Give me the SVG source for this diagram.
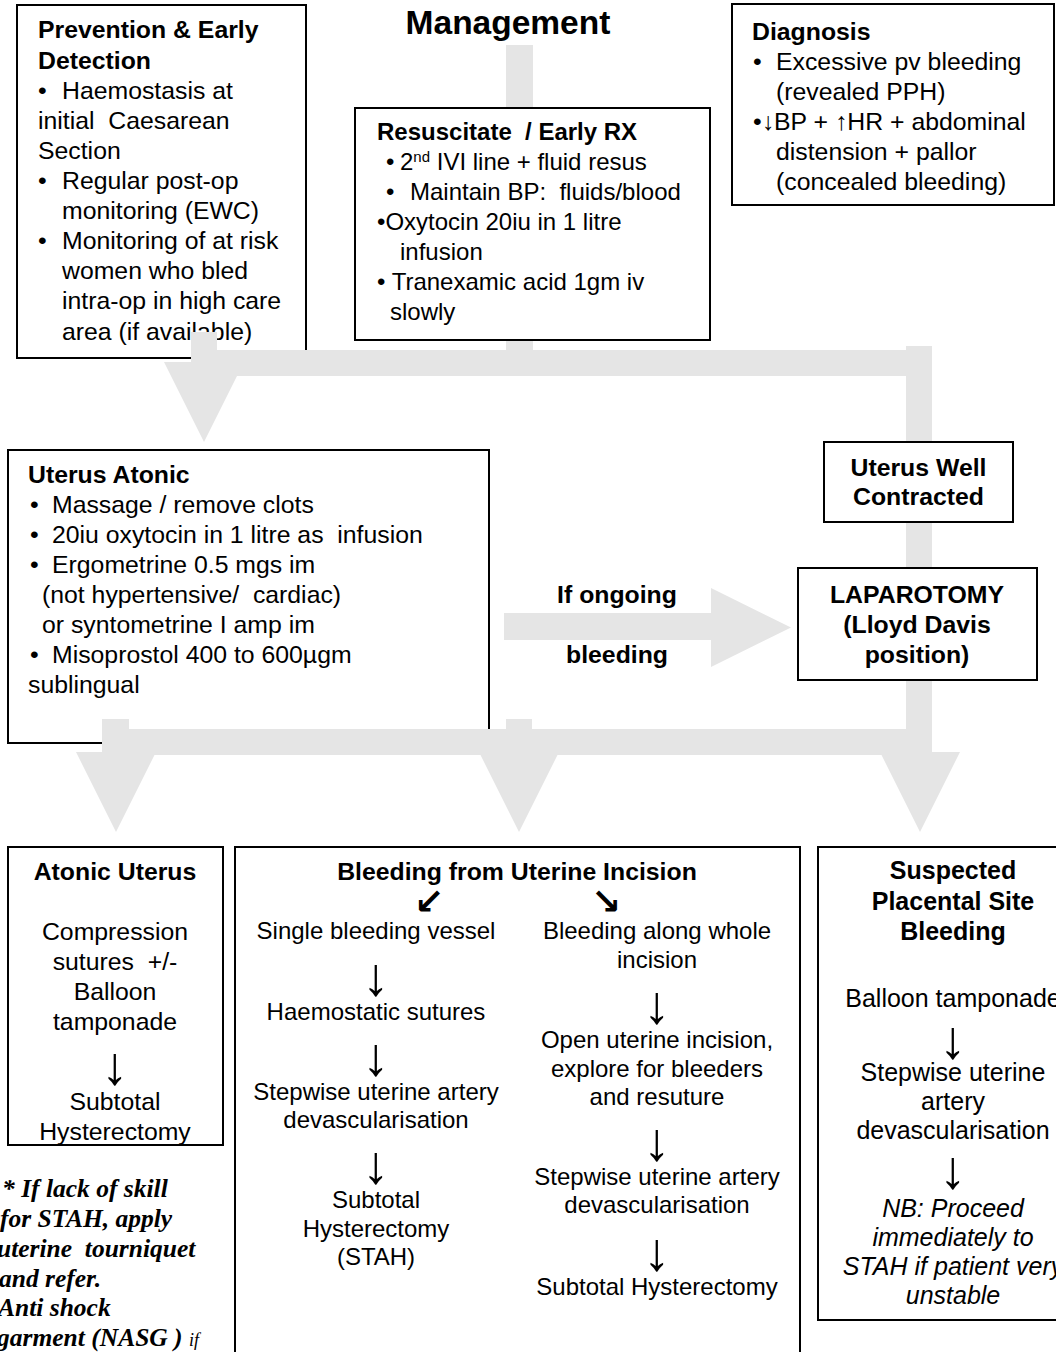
<svg xmlns="http://www.w3.org/2000/svg" width="1056" height="1352" viewBox="0 0 1056 1352">
<style>
.t{font-family:"Liberation Sans",Arial,sans-serif;font-size:24.8px;fill:#000}
.s24{font-size:24px}
.b{font-weight:bold}
.m{text-anchor:middle}
.i{font-style:italic}
.r25{font-size:25px}
.ar{font-family:"Liberation Sans","DejaVu Sans",sans-serif;font-size:54px;text-anchor:middle}
.dg{font-family:"DejaVu Sans",sans-serif;font-weight:bold;font-size:36px;text-anchor:middle}
.box{fill:#fff;stroke:#000;stroke-width:2}
.conn{fill:#e5e5e5}
.note{font-family:"Liberation Serif","Times New Roman",serif;font-weight:bold;font-style:italic;font-size:25.5px}
</style>
<rect width="1056" height="1352" fill="#fff"/>

<g id="prevention">
<rect class="box" x="17" y="5" width="289" height="353"/>
<text class="t b" x="38" y="38">Prevention &amp; Early</text>
<text class="t b" x="38" y="69">Detection</text>
<text class="t" x="38" y="99">•</text><text class="t" x="62" y="99">Haemostasis at</text>
<text class="t" x="38" y="129" xml:space="preserve">initial  Caesarean</text>
<text class="t" x="38" y="159">Section</text>
<text class="t" x="38" y="189">•</text><text class="t" x="62" y="189">Regular post-op</text>
<text class="t" x="62" y="219">monitoring (EWC)</text>
<text class="t" x="38" y="249">•</text><text class="t" x="62" y="249">Monitoring of at risk</text>
<text class="t" x="62" y="279">women who bled</text>
<text class="t" x="62" y="309">intra-op in high care</text>
<text class="t" x="62" y="340">area (if available)</text>
</g>

<g id="uterus-atonic">
<rect class="box" x="8" y="450" width="481" height="293"/>
<text class="t b" x="28" y="483">Uterus Atonic</text>
<text class="t" x="30" y="513">•</text><text class="t" x="52" y="513">Massage / remove clots</text>
<text class="t" x="30" y="543">•</text><text class="t" x="52" y="543" xml:space="preserve">20iu oxytocin in 1 litre as  infusion</text>
<text class="t" x="30" y="573">•</text><text class="t" x="52" y="573">Ergometrine 0.5 mgs im</text>
<text class="t" x="42" y="603" xml:space="preserve">(not hypertensive/  cardiac)</text>
<text class="t" x="42" y="633">or syntometrine I amp im</text>
<text class="t" x="30" y="663">•</text><text class="t" x="52" y="663">Misoprostol 400 to 600µgm</text>
<text class="t" x="28" y="693">sublingual</text>
</g>

<g id="connectors">
<rect class="conn" x="506" y="45" width="27" height="310"/>
<rect class="conn" x="191" y="350" width="741" height="26"/>
<rect class="conn" x="191" y="332" width="26" height="30"/>
<polygon class="conn" points="164,362 244,362 204,442"/>
<rect class="conn" x="906" y="346" width="26" height="409"/>
<rect class="conn" x="102" y="729" width="830" height="26"/>
<rect class="conn" x="102" y="719" width="27" height="12"/>
<rect class="conn" x="506" y="719" width="26" height="12"/>
<polygon class="conn" points="76,752 156,752 116,832"/>
<polygon class="conn" points="479,752 559,752 519,832"/>
<polygon class="conn" points="880,752 960,752 920,832"/>
<polygon class="conn" points="504,613 711,613 711,588 791,627.5 711,667 711,640 504,640"/>
</g>

<g id="management">
<text class="t b m" x="508" y="34" style="font-size:33.5px">Management</text>
</g>

<g id="resuscitate">
<rect class="box" x="355" y="108" width="355" height="232"/>
<text class="t b s24" x="377" y="140" xml:space="preserve">Resuscitate  / Early RX</text>
<text class="t s24" x="386" y="170">•</text><text class="t s24" x="400" y="170">2<tspan dy="-8" font-size="15">nd</tspan><tspan dy="8"> IVI line + fluid resus</tspan></text>
<text class="t s24" x="386" y="200">•</text><text class="t s24" x="410" y="200" xml:space="preserve">Maintain BP:  fluids/blood</text>
<text class="t s24" x="377" y="230">•Oxytocin 20iu in 1 litre</text>
<text class="t s24" x="400" y="260">infusion</text>
<text class="t s24" x="377" y="290">• Tranexamic acid 1gm iv</text>
<text class="t s24" x="390" y="320">slowly</text>
</g>

<g id="diagnosis">
<rect class="box" x="732" y="4" width="322" height="201"/>
<text class="t b" x="752" y="40">Diagnosis</text>
<text class="t" x="753" y="70">•</text><text class="t" x="776" y="70">Excessive pv bleeding</text>
<text class="t" x="776" y="100">(revealed PPH)</text>
<text class="t" x="753" y="130">•↓BP + ↑HR + abdominal</text>
<text class="t" x="776" y="160">distension + pallor</text>
<text class="t" x="776" y="190">(concealed bleeding)</text>
</g>

<g id="uterus-well">
<rect class="box" x="824" y="442" width="189" height="80"/>
<text class="t b m" x="918.5" y="476">Uterus Well</text>
<text class="t b m" x="918.5" y="505">Contracted</text>
</g>

<g id="if-ongoing">
<text class="t b m" x="617" y="603">If ongoing</text>
<text class="t b m" x="617" y="663">bleeding</text>
</g>

<g id="laparotomy">
<rect class="box" x="798" y="568" width="239" height="112"/>
<text class="t b m" x="917" y="603">LAPAROTOMY</text>
<text class="t b m" x="917" y="633">(Lloyd Davis</text>
<text class="t b m" x="917" y="663">position)</text>
</g>

<g id="atonic-uterus">
<rect class="box" x="8" y="847" width="215" height="298"/>
<text class="t b m" x="115" y="880">Atonic Uterus</text>
<text class="t m" x="115" y="940">Compression</text>
<text class="t m" x="115" y="970" xml:space="preserve">sutures  +/-</text>
<text class="t m" x="115" y="1000">Balloon</text>
<text class="t m" x="115" y="1030">tamponade</text>
<text class="ar" x="115" y="1084">↓</text>
<text class="t m" x="115" y="1110">Subtotal</text>
<text class="t m" x="115" y="1140">Hysterectomy</text>
</g>

<g id="note">
<text class="note" x="2" y="1197">* If lack of skill</text>
<text class="note" x="0" y="1227">for STAH, apply</text>
<text class="note" x="-3" y="1257" xml:space="preserve">uterine  tourniquet</text>
<text class="note" x="-1" y="1287">and refer.</text>
<text class="note" x="-2" y="1316">Anti shock</text>
<text class="note" x="-3" y="1346">garment (NASG ) <tspan font-weight="normal" font-size="18">if</tspan></text>
</g>

<g id="incision">
<rect class="box" x="235" y="847" width="565" height="520"/>
<text class="t b m" x="517" y="880">Bleeding from Uterine Incision</text>
<text class="dg" x="429" y="914">↙</text>
<text class="dg" x="606" y="914">↘</text>
<text class="t m s24" x="376" y="939">Single bleeding vessel</text>
<text class="ar" x="376" y="995">↓</text>
<text class="t m s24" x="376" y="1020">Haemostatic sutures</text>
<text class="ar" x="376" y="1075">↓</text>
<text class="t m s24" x="376" y="1100">Stepwise uterine artery</text>
<text class="t m s24" x="376" y="1128">devascularisation</text>
<text class="ar" x="376" y="1183">↓</text>
<text class="t m s24" x="376" y="1208">Subtotal</text>
<text class="t m s24" x="376" y="1237">Hysterectomy</text>
<text class="t m s24" x="376" y="1265">(STAH)</text>
<text class="t m s24" x="657" y="939">Bleeding along whole</text>
<text class="t m s24" x="657" y="968">incision</text>
<text class="ar" x="657" y="1023">↓</text>
<text class="t m s24" x="657" y="1048">Open uterine incision,</text>
<text class="t m s24" x="657" y="1077">explore for bleeders</text>
<text class="t m s24" x="657" y="1105">and resuture</text>
<text class="ar" x="657" y="1160">↓</text>
<text class="t m s24" x="657" y="1185">Stepwise uterine artery</text>
<text class="t m s24" x="657" y="1213">devascularisation</text>
<text class="ar" x="657" y="1270">↓</text>
<text class="t m s24" x="657" y="1295">Subtotal Hysterectomy</text>
</g>

<g id="placental">
<rect class="box" x="818" y="847" width="260" height="473"/>
<text class="t b m r25" x="953" y="879">Suspected</text>
<text class="t b m r25" x="953" y="910">Placental Site</text>
<text class="t b m r25" x="953" y="940">Bleeding</text>
<text class="t m r25" x="953" y="1007">Balloon tamponade</text>
<text class="ar" x="953" y="1058">↓</text>
<text class="t m r25" x="953" y="1081">Stepwise uterine</text>
<text class="t m r25" x="953" y="1110">artery</text>
<text class="t m r25" x="953" y="1139">devascularisation</text>
<text class="ar" x="953" y="1188">↓</text>
<text class="t m r25 i" x="953" y="1217">NB: Proceed</text>
<text class="t m r25 i" x="953" y="1246">immediately to</text>
<text class="t m r25 i" x="953" y="1275">STAH if patient very</text>
<text class="t m r25 i" x="953" y="1304">unstable</text>
</g>
</svg>
